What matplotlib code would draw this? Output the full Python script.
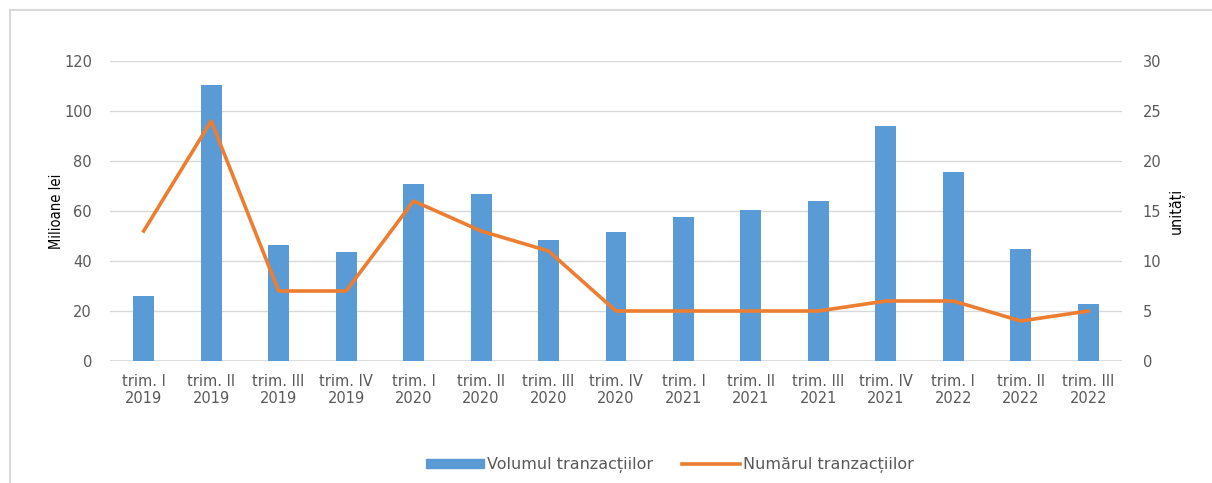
import matplotlib.pyplot as plt
from matplotlib.patches import Rectangle
from matplotlib.lines import Line2D
from matplotlib.patches import Patch
import numpy as np

quarters = ["trim. I\n2019", "trim. II\n2019", "trim. III\n2019", "trim. IV\n2019",
            "trim. I\n2020", "trim. II\n2020", "trim. III\n2020", "trim. IV\n2020",
            "trim. I\n2021", "trim. II\n2021", "trim. III\n2021", "trim. IV\n2021",
            "trim. I\n2022", "trim. II\n2022", "trim. III\n2022"]
volum = [26, 110.5, 46.5, 43.5, 71, 67, 48.5, 51.5, 57.5, 60.5, 64, 94, 75.5, 45, 23]
numar = [13, 24, 7, 7, 16, 13, 11, 5, 5, 5, 5, 6, 6, 4, 5]

blue = "#5B9BD5"
orange = "#ED7D31"
grey = "#595959"

plt.rcParams['font.family'] = ['DejaVu Sans']

fig = plt.figure(figsize=(12.12, 4.83), dpi=100)
# outer frame, right and bottom edges run off the canvas
fig.patches.append(Rectangle((10 / 1212, -0.1), 1.2, 1 - 10 / 483 + 0.1,
                             transform=fig.transFigure, fill=False,
                             edgecolor="#d9d9d9", linewidth=1.5))

ax = fig.add_axes([110 / 1212, 1 - 361 / 483, (1122 - 110) / 1212, 300 / 483])
x = np.arange(len(quarters))
ax.bar(x, volum, width=0.31, color=blue, zorder=2)
ax.set_xlim(-0.5, len(quarters) - 0.5)
ax.set_ylim(0, 120)
ax.set_yticks(range(0, 121, 20))
ax.set_xticks(x)
ax.set_xticklabels(quarters, fontsize=10.5, color=grey, linespacing=1.2)
ax.tick_params(axis="y", labelsize=10.5, labelcolor=grey, length=0, pad=13)
ax.tick_params(axis="x", length=0, pad=9)
ax.grid(axis="y", color="#d9d9d9", linewidth=1, zorder=0)
for s in ax.spines.values():
    s.set_visible(False)
ax.axhline(0, color="#d9d9d9", linewidth=1.2, zorder=1)
ax.set_ylabel("Milioane lei", fontsize=10.5, fontstretch="condensed", labelpad=0)

ax2 = ax.twinx()
ax2.plot(x, numar, color=orange, linewidth=2.6, zorder=3)
ax2.set_ylim(0, 30)
ax2.set_yticks(range(0, 31, 5))
ax2.tick_params(axis="y", labelsize=10.5, labelcolor=grey, length=0, pad=15)
for s in ax2.spines.values():
    s.set_visible(False)
ax2.set_ylabel("unități", fontsize=11.5, fontstretch="condensed", labelpad=5)

handles = [Patch(color=blue), Line2D([], [], color=orange, linewidth=2.6)]
fig.legend(handles, ["Volumul tranzacțiilor", "Numărul tranzacțiilor"],
           loc="center", bbox_to_anchor=(670 / 1212, 1 - 465 / 483), ncol=2,
           frameon=False, fontsize=11.5, labelcolor=grey, handlelength=3.6,
           handleheight=0.55, columnspacing=1.8, handletextpad=0.2)

fig.savefig("out.png", dpi=100)
